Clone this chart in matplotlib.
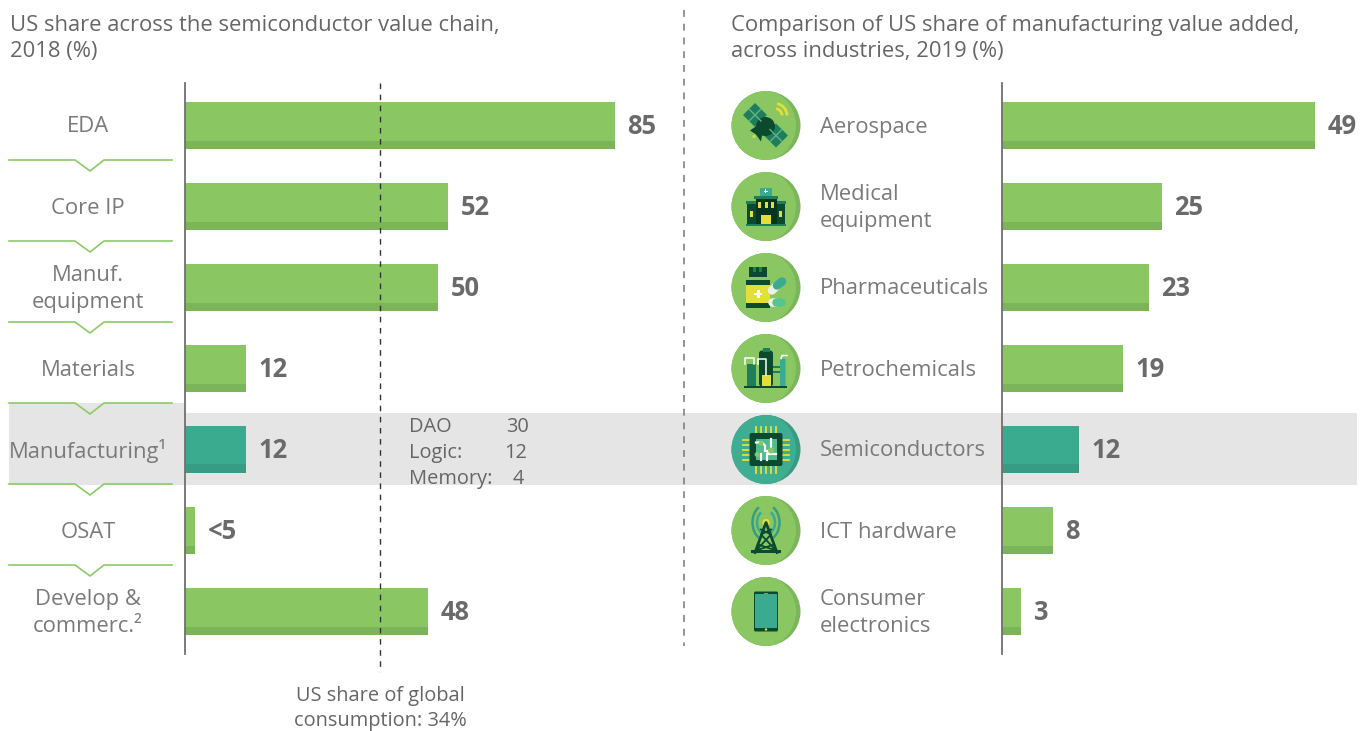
"""US share across the semiconductor value chain vs other industries."""
import matplotlib

matplotlib.use("Agg")
import matplotlib.pyplot as plt
from matplotlib.patches import Arc, Circle, FancyBboxPatch, Polygon, Rectangle

W, H = 1367, 731
FONT = "Open Sans"

chain_labels = ["EDA", "Core IP", "Manuf.\nequipment", "Materials",
                "Manufacturing¹", "OSAT", "Develop &\ncommerc.²"]
chain_values = [85, 52, 50, 12, 12, 2, 48]
chain_texts = ["85", "52", "50", "12", "12", "<5", "48"]
chain_highlight = 4
consumption_marker = 38.5

industry_labels = ["Aerospace", "Medical\nequipment", "Pharmaceuticals", "Petrochemicals",
                   "Semiconductors", "ICT hardware", "Consumer\nelectronics"]
industry_values = [49, 25, 23, 19, 12, 8, 3]
industry_highlight = 4

split_labels = ["DAO", "Logic:", "Memory:"]
split_values = ["30", "12", "4"]

GREEN, GREEN_DK = "#8AC763", "#7CB45A"
TEAL, TEAL_DK = "#3BAB90", "#389C84"
FOREST, MID = "#0B4A2E", "#1E7D5A"
YELLOW = "#E3DF3A"
PALE = "#F0F0E8"
TXT, TXT_DK, BOLD = "#7A7A7A", "#666666", "#6A6A6A"
LABEL_PX, TITLE_PX, BAR_TXT_PX = 22, 22, 25.5


def px(size):
    return size * 0.72


def rect(ax, x0, y0, x1, y1, color, **kw):
    ax.add_patch(Rectangle((x0, y0), x1 - x0, y1 - y0, fc=color, ec="none", **kw))


def pill(ax, xs, ys, color, thick=8.5):
    ax.plot(xs, ys, color=color, lw=px(thick), solid_capstyle="round")


def base_circle(ax, cx, cy, light, dark):
    base = Circle((cx, cy), 34.5, fc=dark, ec="none")
    ax.add_patch(base)
    top = Circle((cx - 7, cy), 37, fc=light, ec="none")
    ax.add_patch(top)
    top.set_clip_path(base)


def icon_satellite(ax, cx, cy):
    for dx, dy in [(-11, -10.5), (10, 10)]:
        x, y = cx + dx, cy + dy
        ax.add_patch(Polygon([(x - 12, y), (x, y - 12), (x + 12, y), (x, y + 12)], fc=MID, ec="none"))
        ax.plot([x - 6, x + 6], [y - 6, y + 6], color="#5FB48A", lw=1)
        ax.plot([x - 6, x + 6], [y + 6, y - 6], color="#5FB48A", lw=1)
    ax.add_patch(Circle((cx - 0.5, cy + 1), 9.5, fc=FOREST, ec="none"))
    ax.add_patch(Polygon([(cx - 16, cy + 5), (cx - 6, cy - 2), (cx + 3, cy + 8), (cx - 4, cy + 10),
                          (cx - 5, cy + 16), (cx - 10, cy + 9)], fc=FOREST, ec="none"))
    ax.add_patch(Circle((cx - 12, cy + 11), 1.5, fc=YELLOW, ec="none"))
    for r in (7, 12):
        ax.add_patch(Arc((cx + 9, cy - 10), 2 * r, 2 * r, theta1=-80, theta2=0, color=YELLOW, lw=2))


def icon_hospital(ax, cx, cy):
    rect(ax, cx - 19, cy - 4, cx + 19, cy + 17, FOREST)
    rect(ax, cx - 20, cy - 6, cx + 20, cy - 3, MID)
    rect(ax, cx - 10, cy - 9, cx + 11, cy + 17, "#06351F")
    rect(ax, cx - 12, cy - 11, cx + 12, cy - 8, MID)
    rect(ax, cx - 6, cy - 19, cx + 5.5, cy - 11, TEAL)
    rect(ax, cx - 2.5, cy - 16, cx + 2, cy - 14.8, "white")
    rect(ax, cx - 0.9, cy - 17.6, cx + 0.4, cy - 13.2, "white")
    for dx in (-8, -1.5, 4.5):
        rect(ax, cx + dx, cy - 5, cx + dx + 3.3, cy + 1, YELLOW)
    for dx in (-16, 13):
        rect(ax, cx + dx, cy + 4, cx + dx + 3.3, cy + 10, YELLOW)
    rect(ax, cx - 5.5, cy + 8, cx + 5, cy + 17, YELLOW)
    rect(ax, cx - 20, cy + 17, cx + 20, cy + 19.5, MID)


def icon_pharma(ax, cx, cy):
    rect(ax, cx - 17, cy - 21, cx + 1, cy - 11, FOREST)
    rect(ax, cx - 13, cy - 21, cx - 10, cy - 16, MID)
    rect(ax, cx - 7, cy - 21, cx - 4, cy - 16, MID)
    rect(ax, cx - 20, cy - 8, cx + 4, cy + 20, FOREST)
    rect(ax, cx - 20, cy - 3, cx + 4, cy + 15, YELLOW)
    rect(ax, cx - 12, cy + 5, cx - 4, cy + 7.5, "white")
    rect(ax, cx - 9, cy + 2, cx - 6.5, cy + 10.5, "white")
    pill(ax, [cx + 6, cx + 11], [cy + 3, cy - 2], PALE)
    pill(ax, [cx + 11, cx + 16], [cy - 2, cy - 6], TEAL)
    pill(ax, [cx + 5.5, cx + 10], [cy + 14, cy + 14], PALE)
    pill(ax, [cx + 10, cx + 15], [cy + 14, cy + 14], "#55C48E")


def icon_petro(ax, cx, cy):
    rect(ax, cx - 19.5, cy - 5, cx - 10, cy + 18, MID)
    ax.add_patch(FancyBboxPatch((cx - 7, cy - 18), 14, 36, boxstyle="round,pad=0,rounding_size=3",
                                fc=FOREST, ec="none"))
    rect(ax, cx - 3.5, cy - 21, cx + 3.5, cy - 17, MID)
    rect(ax, cx + 7, cy - 3, cx + 14, cy - 1, MID)
    rect(ax, cx + 7, cy + 2, cx + 14, cy + 4, MID)
    ax.add_patch(FancyBboxPatch((cx + 14, cy - 10), 5.5, 28, boxstyle="round,pad=0,rounding_size=1.5",
                                fc=TEAL, ec="none"))
    rect(ax, cx - 4.5, cy + 6, cx + 4.5, cy + 18, YELLOW)
    rect(ax, cx - 22, cy + 17, cx + 21, cy + 19.5, FOREST)
    ax.plot([cx - 21.5, cx - 21.5, cx - 12, cx - 12], [cy - 5, cy - 11, cy - 11, cy - 5], color="white", lw=1.1)
    ax.plot([cx - 8, cx - 8, cx, cx], [cy - 5, cy - 10, cy - 10, cy + 6], color="white", lw=1.1)
    ax.plot([cx + 15, cx + 16, cx + 21], [cy - 10, cy - 13, cy - 13], color="white", lw=1.1)


def icon_chip(ax, cx, cy):
    for d in (-10, -5, 0, 5, 10):
        ax.plot([cx + d, cx + d], [cy - 23, cy + 23], color=YELLOW, lw=1.3, zorder=2)
        ax.plot([cx - 23, cx + 23], [cy + d, cy + d], color=YELLOW, lw=1.3, zorder=2)
    ax.add_patch(FancyBboxPatch((cx - 16.5, cy - 16.5), 33, 33, boxstyle="round,pad=0,rounding_size=2",
                                fc=FOREST, ec="none", zorder=3))
    rect(ax, cx - 10.5, cy - 10.5, cx + 10.5, cy + 10.5, "#4DBD8E", zorder=4)
    for xs, ys in [([cx - 10, cx - 4, cx - 1, cx - 1], [cy - 7, cy - 7, cy - 4, cy + 1]),
                   ([cx - 1, cx + 2, cx + 2, cx + 10], [cy + 1, cy + 1, cy + 4, cy + 4]),
                   ([cx + 5, cx + 5], [cy - 11, cy - 1]),
                   ([cx - 5, cx - 5], [cy + 4, cy + 10]),
                   ([cx + 1, cx + 1], [cy + 4, cy + 10])]:
        ax.plot(xs, ys, color="white", lw=1.6, zorder=5)
    for dx, dy, r in [(-5, -6, 2.4), (5, 1, 3), (-9, 5, 2.4)]:
        ax.add_patch(Circle((cx + dx, cy + dy), r, fc=GREEN, ec="none", zorder=6))


def icon_tower(ax, cx, cy):
    for r, c in ((12, TEAL), (18, TEAL_DK)):
        ax.add_patch(Arc((cx, cy - 8), 2 * r * 0.75, 2 * r, theta1=115, theta2=245, color=c, lw=1.8))
        ax.add_patch(Arc((cx, cy - 8), 2 * r * 0.75, 2 * r, theta1=-65, theta2=65, color=c, lw=1.8))
    ax.plot([cx - 11, cx, cx + 11], [cy + 22, cy - 8, cy + 22], color=FOREST, lw=2)
    ax.plot([cx - 8, cx + 10, cx - 5, cx + 5], [cy + 14, cy + 20, cy + 4, cy - 1], color=FOREST, lw=1.3)
    ax.plot([cx + 8, cx - 10, cx + 5, cx - 5], [cy + 14, cy + 20, cy + 4, cy - 1], color=FOREST, lw=1.3)
    rect(ax, cx - 15, cy + 19, cx + 15, cy + 22, FOREST)
    ax.add_patch(Circle((cx, cy - 8), 3.7, fc=YELLOW, ec="none"))


def icon_phone(ax, cx, cy):
    ax.add_patch(FancyBboxPatch((cx - 12, cy - 20), 24, 40, boxstyle="round,pad=0,rounding_size=1.5",
                                fc=FOREST, ec="none"))
    rect(ax, cx - 11, cy - 17.5, cx + 11, cy + 16, TEAL)
    ax.add_patch(Circle((cx, cy + 18), 1.2, fc=YELLOW, ec="none"))
    rect(ax, cx - 2, cy - 19, cx + 2, cy - 18, "#8A9A50")


def draw_bars(ax, values, highlight):
    for i, v in enumerate(values):
        top, band = (TEAL, TEAL_DK) if i == highlight else (GREEN, GREEN_DK)
        ax.barh(i, v, height=47 / 81, color=top, zorder=2)
        ax.barh(i + (47 - 8) / 2 / 81, v, height=8 / 81, color=band, zorder=2)


fig = plt.figure(figsize=(W / 100, H / 100), dpi=100)
bg = fig.add_axes([0, 0, 1, 1], zorder=0)
bg.set_xlim(0, W)
bg.set_ylim(H, 0)
bg.axis("off")

# grey highlight band, a bit taller behind the left label
rect(bg, 9, 413, 1357, 485, "#E5E5E5")
rect(bg, 9, 403, 185, 485, "#E5E5E5")

for y in (160, 241, 322, 403, 484, 565):
    bg.plot([9, 75, 90, 104, 172], [y, y, y + 11, y, y], color="#8CCB68", lw=1.2)

bg.plot([684, 684], [10, 646], color="#777777", lw=1.1, ls=(0, (4.5, 4.5)))

rows = [125 + 81 * i for i in range(7)]


def add_text(x, y, s, size=LABEL_PX, color=TXT, ha="center", **kw):
    # +2: Open Sans sits a little high when centred on its line box
    bg.text(x, y + 2, s, fontsize=px(size), color=color, ha=ha, va="center", family=FONT,
            linespacing=1.34, **kw)


add_text(10, 36.5, "US share across the semiconductor value chain,\n2018 (%)", size=TITLE_PX, color=TXT_DK, ha="left")
add_text(731, 36.5, "Comparison of US share of manufacturing value added,\nacross industries, 2019 (%)",
         size=TITLE_PX, color=TXT_DK, ha="left")

for y, s in zip(rows, chain_labels):
    add_text(88, y, s)
for y, s in zip(rows, industry_labels):
    add_text(820, y, s, ha="left")

for y, a, b, right in zip((425, 451, 477), split_labels, split_values, (529, 527, 524)):
    add_text(409, y, a, size=20, color=TXT_DK, ha="left")
    add_text(right, y, b, size=20, color=TXT_DK, ha="right")

add_text(380, 694, "US share of global", size=20, color=TXT_DK)
add_text(380, 719, "consumption: 34%", size=20, color=TXT_DK)

icons = [icon_satellite, icon_hospital, icon_pharma, icon_petro, icon_chip, icon_tower, icon_phone]
for i, (y, icon) in enumerate(zip(rows, icons)):
    light, dark = ("#3FAD92", "#379B83") if i == industry_highlight else (GREEN, "#7CB65A")
    base_circle(bg, 766, y + 0.5, light, dark)
    icon(bg, 766, y + 0.5)

# bar panels: x scale in px per percent
panels = [(185, 5.06, chain_values, chain_highlight, chain_texts),
          (1002, 6.39, industry_values, industry_highlight, [str(v) for v in industry_values])]
axes = []
for left, scale, values, hi, texts in panels:
    width = 340 if left > 1000 else 480
    ax = fig.add_axes([left / W, 1 - 654 / H, width / W, (654 - 83) / H], zorder=1)
    ax.set_xlim(0, width / scale)
    ax.set_ylim((654 - 125) / 81, (83 - 125) / 81)
    ax.patch.set_visible(False)
    for name in ("top", "right", "bottom"):
        ax.spines[name].set_visible(False)
    ax.spines["left"].set_color("#707070")
    ax.spines["left"].set_linewidth(1.3)
    ax.spines["left"].set_zorder(5)
    ax.set_xticks([])
    ax.set_yticks([])
    draw_bars(ax, values, hi)
    for i, (v, t) in enumerate(zip(values, texts)):
        ax.annotate(t, (v, i), xytext=(px(12.5), px(-1.5)), textcoords="offset points", fontsize=px(BAR_TXT_PX),
                    fontweight="bold", color=BOLD, va="center", ha="left", family=FONT, annotation_clip=False)
    axes.append(ax)

axes[0].plot([consumption_marker] * 2, [(83 - 125) / 81, (672 - 125) / 81], color="#333333", lw=1,
             ls=(0, (4, 4)), clip_on=False, zorder=3)

fig.savefig("out.png", dpi=100)
plt.close(fig)
